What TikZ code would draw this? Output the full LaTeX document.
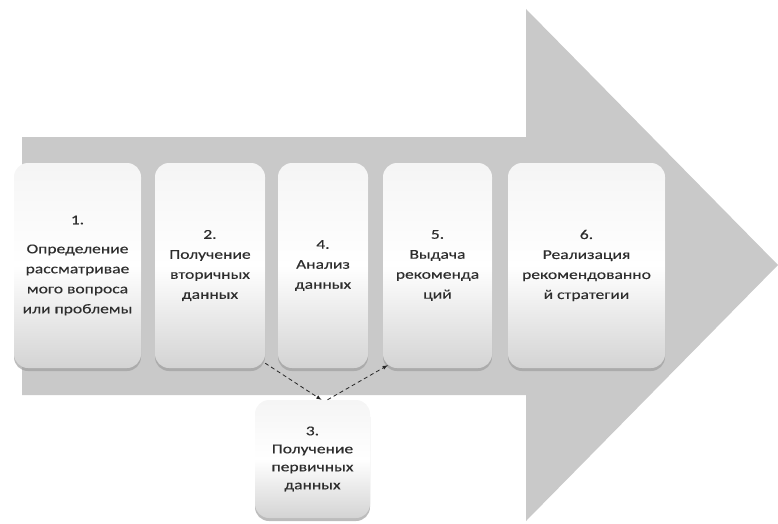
\documentclass[tikz,border=0pt]{standalone}
\usepackage{fontspec}
\setmainfont{Carlito}[FakeStretch=1.3,FakeBold=0.3]
\usetikzlibrary{arrows,shadows}
\definecolor{arrowgray}{RGB}{201,201,201}
\definecolor{txtgray}{RGB}{45,45,45}

\tikzset{
	stage/.style={rectangle, rounded corners=14pt, minimum height=205pt, inner sep=2pt, align=center,
		top color=gray!8, bottom color=gray!34, middle color=white,
		drop shadow={shadow xshift=0pt, shadow yshift=-3pt, opacity=0.7, fill=gray!75},
		text=txtgray, font=\fontsize{13.5}{20}\selectfont},
	flow/.style={thick, dash pattern=on 4pt off 3pt, -latex, black!85}
}

\begin{document}
\begin{tikzpicture}[x=1pt,y=-1pt]

		\useasboundingbox (0,0) rectangle (778,524);
		
		% big arrow in the back
		\fill[arrowgray] (22,137) -- (526,137) -- (526,9) -- (778,265) -- (526,521) -- (526,395) -- (22,395) -- cycle;
		
		\node[stage, minimum width=127pt] (b1) at (77.5,265.5) {1.\\[9pt]Определение\\рассматривае\\мого вопроса\\или проблемы};
		\node[stage, minimum width=110pt] (b2) at (210,265.5) {2.\\Получение\\вторичных\\данных};
		\node[stage, minimum width=90pt] (b4) at (323,265.5) {4.\\Анализ\\данных};
		\node[stage, minimum width=109pt] (b5) at (437.5,265.5) {5.\\Выдача\\рекоменда\\ций};
		\node[stage, minimum width=157pt] (b6) at (586.5,265.5) {6.\\Реализация\\рекомендованно\\й стратегии};
		\node[stage, minimum width=115pt, minimum height=118pt, font=\fontsize{13.5}{18}\selectfont] (b3) at (312.5,459) {3.\\Получение\\первичных\\данных};
		
		\draw[flow] ([yshift=5pt]b2.south east) -- ([xshift=9pt]b3.north);
		\draw[flow] ([xshift=15pt]b3.north) -- ([xshift=5pt,yshift=3pt]b5.south west);
		
	\end{tikzpicture}
\end{document}
